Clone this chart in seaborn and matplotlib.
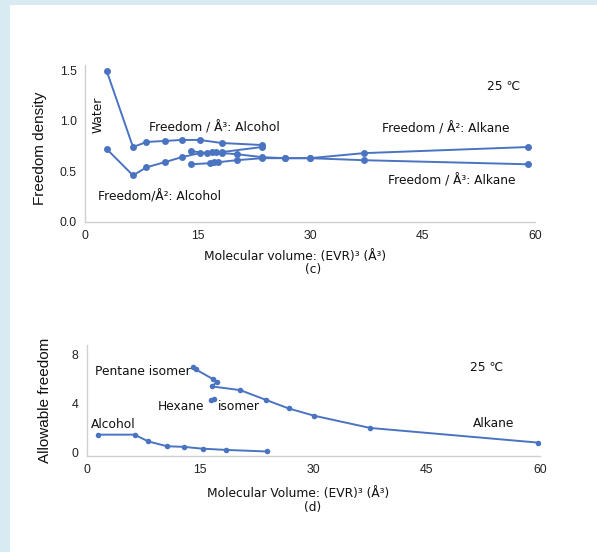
import matplotlib
matplotlib.use("Agg")
import matplotlib.pyplot as plt
from matplotlib.patches import Rectangle
import seaborn as sns
import pandas as pd

# ---------------- data ----------------
# (c) Freedom density
alcohol_vol = [2.9, 6.4, 8.2, 10.6, 12.9, 15.3, 18.2, 23.6]
fd_alcohol_a3 = [1.49, 0.74, 0.79, 0.80, 0.81, 0.81, 0.78, 0.76]
fd_alcohol_a2 = [0.72, 0.46, 0.54, 0.59, 0.64, 0.68, 0.69, 0.74]

alkane_a2_vol = [14.1, 16.2, 16.9, 17.5, 18.3, 20.2, 23.6, 26.7, 30.0, 37.2, 59.0]
fd_alkane_a2 = [0.70, 0.68, 0.69, 0.69, 0.68, 0.67, 0.64, 0.63, 0.63, 0.68, 0.74]
alkane_a3_vol = [14.1, 16.6, 17.2, 17.7, 20.2, 23.6, 26.7, 30.0, 37.2, 59.0]
fd_alkane_a3 = [0.57, 0.58, 0.59, 0.59, 0.61, 0.63, 0.63, 0.63, 0.61, 0.57]

# (d) Allowable freedom
alcohol_vol_d = [1.5, 6.3, 8.1, 10.6, 12.8, 15.3, 18.4, 23.8]
af_alcohol = [1.45, 1.45, 0.9, 0.5, 0.45, 0.3, 0.2, 0.07]
alkane_vol = [14.1, 14.4, 16.7, 17.2, 16.6, 20.3, 23.7, 26.7, 30.1, 37.5, 59.7]
af_alkane = [7.0, 6.8, 6.0, 5.8, 5.4, 5.1, 4.3, 3.6, 3.0, 2.0, 0.8]
hexane_iso_vol = [16.4, 16.8]
af_hexane_iso = [4.3, 4.35]

c_x_ticks = [0, 15, 30, 45, 60]
c_y_ticks = [0.0, 0.5, 1.0, 1.5]
d_y_ticks = [0, 4, 8]

# ---------------- style ----------------
sns.set_theme(style="white")
plt.rcParams["font.family"] = ["Liberation Sans", "DejaVu Sans"]
BLUE = "#4a74c2"
SPINE = "#d0d0d0"
ANN = ["DejaVu Sans"]

W, H = 597, 552
fig = plt.figure(figsize=(W / 100, H / 100), dpi=100)
fig.patch.set_facecolor("white")
lb = "#d8ebf2"
fig.patches.append(Rectangle((0, 1 - 5 / H), 1, 5 / H, transform=fig.transFigure,
                             facecolor=lb, edgecolor="none", zorder=0))
fig.patches.append(Rectangle((0, 0), 10 / W, 1, transform=fig.transFigure,
                             facecolor=lb, edgecolor="none", zorder=0))


def px_axes(l, t, r, b):
    return fig.add_axes([l / W, 1 - b / H, (r - l) / W, (b - t) / H])


def line(ax, x, y, ms=5):
    df = pd.DataFrame({"x": x, "y": y})
    sns.lineplot(data=df, x="x", y="y", ax=ax, sort=False, color=BLUE,
                 linewidth=1.4, marker="o", markersize=ms,
                 markeredgewidth=0, estimator=None)


def style_axes(ax):
    for s in ["top", "right"]:
        ax.spines[s].set_visible(False)
    for s in ["left", "bottom"]:
        ax.spines[s].set_color(SPINE)
        ax.spines[s].set_linewidth(1.0)
    ax.tick_params(axis="both", length=0, labelsize=8.8, colors="#222222", pad=6)
    ax.set_facecolor("white")
    ax.set_xlabel("")
    ax.set_ylabel("")


tk = dict(fontsize=8.8, color="#111111", family=ANN)

# ---------- (c) ----------
ax1 = px_axes(85, 65, 535, 222)
line(ax1, alcohol_vol, fd_alcohol_a3)
line(ax1, alcohol_vol, fd_alcohol_a2)
line(ax1, alkane_a2_vol, fd_alkane_a2)
line(ax1, alkane_a3_vol, fd_alkane_a3)
ax1.set_xlim(0, 60)
ax1.set_ylim(0, 1.55)
ax1.set_xticks(c_x_ticks)
ax1.set_yticks(c_y_ticks)
ax1.set_yticklabels([f"{v:.1f}" for v in c_y_ticks])
style_axes(ax1)

fig.text(40 / W, 1 - 148 / H, "Freedom density", rotation=90, ha="center", va="center",
         fontsize=11, color="#111111")
ax1.text(0.931, 0.86, "25 ℃", transform=ax1.transAxes, ha="center", va="center", **tk)
ax1.text(1.7, 1.06, "Water", rotation=90, ha="center", va="center", **tk)
ax1.text(8.5, 0.93, "Freedom / Å³: Alcohol", ha="left", va="center", **tk)
ax1.text(39.6, 0.92, "Freedom / Å²: Alkane", ha="left", va="center", **tk)
ax1.text(40.4, 0.41, "Freedom / Å³: Alkane", ha="left", va="center", **tk)
ax1.text(1.7, 0.25, "Freedom/Å²: Alcohol", ha="left", va="center", **tk)

fig.text(295 / W, 1 - 256 / H, "Molecular volume: (EVR)³ (Å³)", ha="center", va="center", **tk)
fig.text(313 / W, 1 - 270 / H, "(c)", ha="center", va="center", **tk)

# ---------- (d) ----------
ax2 = px_axes(87, 345, 540, 456)
line(ax2, alcohol_vol_d, af_alcohol, ms=4)
line(ax2, alkane_vol, af_alkane, ms=4)
line(ax2, hexane_iso_vol, af_hexane_iso, ms=4)
ax2.set_xlim(0, 60)
ax2.set_ylim(-0.3, 8.8)
ax2.set_xticks(c_x_ticks)
ax2.set_yticks(d_y_ticks)
style_axes(ax2)

fig.text(45 / W, 1 - 400 / H, "Allowable freedom", rotation=90, ha="center", va="center",
         fontsize=11, color="#111111")
ax2.text(0.883, 0.80, "25 ℃", transform=ax2.transAxes, ha="center", va="center", **tk)
ax2.text(1.0, 6.6, "Pentane isomer", ha="left", va="center", **tk)
ax2.text(9.4, 3.74, "Hexane", ha="left", va="center", **tk)
ax2.text(17.4, 3.74, "isomer", ha="left", va="center", **tk)
ax2.text(0.5, 2.3, "Alcohol", ha="left", va="center", **tk)
ax2.text(51.1, 2.4, "Alkane", ha="left", va="center", **tk)

fig.text(298 / W, 1 - 493 / H, "Molecular Volume: (EVR)³ (Å³)", ha="center", va="center", **tk)
fig.text(313 / W, 1 - 507 / H, "(d)", ha="center", va="center", **tk)

fig.savefig("out.png", dpi=100, facecolor="white")
